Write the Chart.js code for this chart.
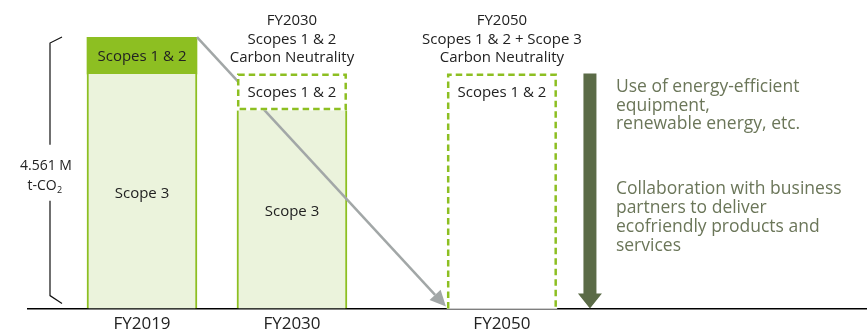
<!DOCTYPE html>
<html>
<head>
<meta charset="utf-8">
<script src="https://cdn.jsdelivr.net/npm/chart.js@4"></script>
<style>
  body { margin: 0; background: #fff; }
  #myChart { display: block; }
</style>
</head>
<body>
<canvas id="myChart" width="867" height="336"></canvas>
<script>
// Emissions, million t-CO2
const categories = ['FY2019', 'FY2030', 'FY2050'];
const scope3 = [3.94, 3.33, 0];
const scope12 = [0.62, 0.62, 3.95];
const scope12Dashed = [false, true, true];
const totalFY2019 = 4.561;

const targetTitles = [
  [],
  ['FY2030', 'Scopes 1 & 2', 'Carbon Neutrality'],
  ['FY2050', 'Scopes 1 & 2 + Scope 3', 'Carbon Neutrality']
];
const measures = [
  ['Use of energy-efficient', 'equipment,', 'renewable energy, etc.'],
  ['Collaboration with business', 'partners to deliver', 'ecofriendly products and', 'services']
];

// where each year sits on the x scale (years are not evenly spaced)
const slots = [0, 5, 12];

const FONT = "'Open Sans', sans-serif";
const GREEN = '#8dbf22';
const PALE = '#ebf3dc';
const INK = '#222222';
const OLIVE = '#5b6b47';

function drawText(ctx, str, x, y, size, color, align) {
  ctx.font = size + 'px ' + FONT;
  ctx.fillStyle = color;
  ctx.textAlign = align || 'center';
  ctx.textBaseline = 'alphabetic';
  ctx.fillText(str, x, y);
}

function barBox(bar) {
  return { l: bar.x - bar.width / 2, r: bar.x + bar.width / 2, t: bar.y, b: bar.base };
}

const pathway = {
  id: 'pathway',
  afterDatasetsDraw(chart) {
    const ctx = chart.ctx;
    const area = chart.chartArea;
    const s3 = chart.getDatasetMeta(0).data;
    const s12 = chart.getDatasetMeta(1).data;
    ctx.save();

    // gray reduction line from the FY2019 top corner to the FY2050 base
    const a = barBox(s12[0]), e = barBox(s12[2]);
    const x1 = a.r, y1 = a.t;
    const x2 = e.l - 1, y2 = e.b - 2;
    const ang = Math.atan2(y2 - y1, x2 - x1);
    const len = 16, half = 7.5;
    const hx = x2 - len * Math.cos(ang), hy = y2 - len * Math.sin(ang);
    ctx.strokeStyle = '#a2a7a7';
    ctx.fillStyle = '#a2a7a7';
    ctx.lineWidth = 2.5;
    ctx.beginPath();
    ctx.moveTo(x1, y1);
    ctx.lineTo(hx, hy);
    ctx.stroke();
    ctx.beginPath();
    ctx.moveTo(x2, y2);
    ctx.lineTo(hx + half * Math.sin(ang), hy - half * Math.cos(ang));
    ctx.lineTo(hx - half * Math.sin(ang), hy + half * Math.cos(ang));
    ctx.closePath();
    ctx.fill();

    // target boxes: white fill over the line, dashed outline
    ctx.lineWidth = 2.5;
    s12.forEach((bar, i) => {
      if (!scope12Dashed[i]) return;
      const bx = barBox(bar);
      ctx.fillStyle = '#ffffff';
      ctx.fillRect(bx.l, bx.t, bx.r - bx.l, bx.b - bx.t);
      const l = bx.l + 1.25, r = bx.r - 1.25, t = bx.t + 1.25, btm = bx.b - 1.25;
      ctx.strokeStyle = GREEN;
      ctx.setLineDash([6.5, 4]);
      ctx.beginPath();
      if (bx.b >= area.bottom - 1) {
        ctx.moveTo(l, bx.b);
        ctx.lineTo(l, t);
        ctx.lineTo(r, t);
        ctx.lineTo(r, bx.b);
      } else {
        ctx.rect(l, t, r - l, btm - t);
      }
      ctx.stroke();
      ctx.setLineDash([]);
    });

    // labels inside the bars
    s12.forEach((bar) => drawText(ctx, 'Scopes 1 & 2', bar.x, bar.y + 24, 15, INK));
    s3.forEach((bar, i) => {
      if (!scope3[i]) return;
      drawText(ctx, 'Scope 3', bar.x, (bar.y + bar.base) / 2 + 7, 15, INK);
    });

    // target titles above the bars
    s12.forEach((bar, i) => {
      targetTitles[i].forEach((line, k) => {
        drawText(ctx, line, bar.x, bar.y - 48 + k * 18.5, 15, INK);
      });
    });

    // bracket for the FY2019 total
    const yTop = chart.scales.y.getPixelForValue(totalFY2019);
    const yBot = chart.scales.y.getPixelForValue(0);
    const kx = area.left + 22;
    const mid = (yTop + yBot) / 2;
    ctx.strokeStyle = '#111';
    ctx.lineWidth = 1.2;
    ctx.beginPath();
    ctx.moveTo(kx + 12, yTop);
    ctx.lineTo(kx, yTop + 6);
    ctx.lineTo(kx, mid - 28);
    ctx.moveTo(kx, mid + 28);
    ctx.lineTo(kx, yBot - 13);
    ctx.lineTo(kx + 12, yBot - 5);
    ctx.stroke();
    drawText(ctx, totalFY2019.toFixed(3) + ' M', kx - 4, mid - 3, 14, INK);
    ctx.font = '14px ' + FONT;
    const w = ctx.measureText('t-CO').width;
    drawText(ctx, 't-CO', kx - 8, mid + 17, 14, INK);
    drawText(ctx, '2', kx - 8 + w / 2 + 3, mid + 20, 9, INK);

    // dark reduction arrow and measures text
    const last = barBox(s12[2]);
    const ax = last.r + 33;
    const aTop = last.t, aTip = last.b;
    ctx.fillStyle = OLIVE;
    ctx.beginPath();
    ctx.moveTo(ax - 6.5, aTop);
    ctx.lineTo(ax + 6.5, aTop);
    ctx.lineTo(ax + 6.5, aTip - 15);
    ctx.lineTo(ax + 12, aTip - 15);
    ctx.lineTo(ax, aTip);
    ctx.lineTo(ax - 12, aTip - 15);
    ctx.lineTo(ax - 6.5, aTip - 15);
    ctx.closePath();
    ctx.fill();

    const tx = last.r + 59;
    measures[0].forEach((line, k) => drawText(ctx, line, tx, aTop + 19 + k * 18.5, 17.5, '#6b7659', 'left'));
    measures[1].forEach((line, k) => drawText(ctx, line, tx, aTop + 121 + k * 19, 17.5, '#6b7659', 'left'));
    ctx.restore();
  }
};

const data = {
  datasets: [{
    label: 'Scope 3',
    data: scope3.map((v, i) => ({ x: slots[i], y: v })),
    backgroundColor: PALE,
    borderColor: GREEN,
    borderWidth: { left: 2, right: 2, top: 0, bottom: 0 },
    barThickness: 110
  }, {
    label: 'Scopes 1 & 2',
    data: scope12.map((v, i) => ({ x: slots[i], y: v })),
    backgroundColor: scope12Dashed.map(d => d ? '#ffffff' : GREEN),
    borderWidth: 0,
    barThickness: 110
  }]
};

const config = {
  type: 'bar',
  data: data,
  plugins: [pathway],
  options: {
    responsive: false,
    animation: false,
    layout: { padding: { left: 28, right: 0, top: 37, bottom: -3 } },
    plugins: { legend: { display: false }, tooltip: { enabled: false } },
    scales: {
      x: {
        type: 'linear',
        stacked: true,
        offset: false,
        min: -3.8,
        max: 24.17,
        grid: { display: false, drawTicks: false },
        border: { display: true, color: '#000', width: 1.5 },
        afterBuildTicks: (scale) => { scale.ticks = slots.map(v => ({ value: v })); },
        ticks: {
          autoSkip: false,
          maxRotation: 0,
          padding: 5,
          color: INK,
          font: { family: FONT, size: 17 },
          callback: (v, i) => categories[i]
        }
      },
      y: {
        stacked: true,
        display: false,
        min: 0,
        max: totalFY2019
      }
    }
  }
};

var ctx = document.getElementById('myChart').getContext('2d');
var myChart = new Chart(ctx, config);
</script>
</body>
</html>
